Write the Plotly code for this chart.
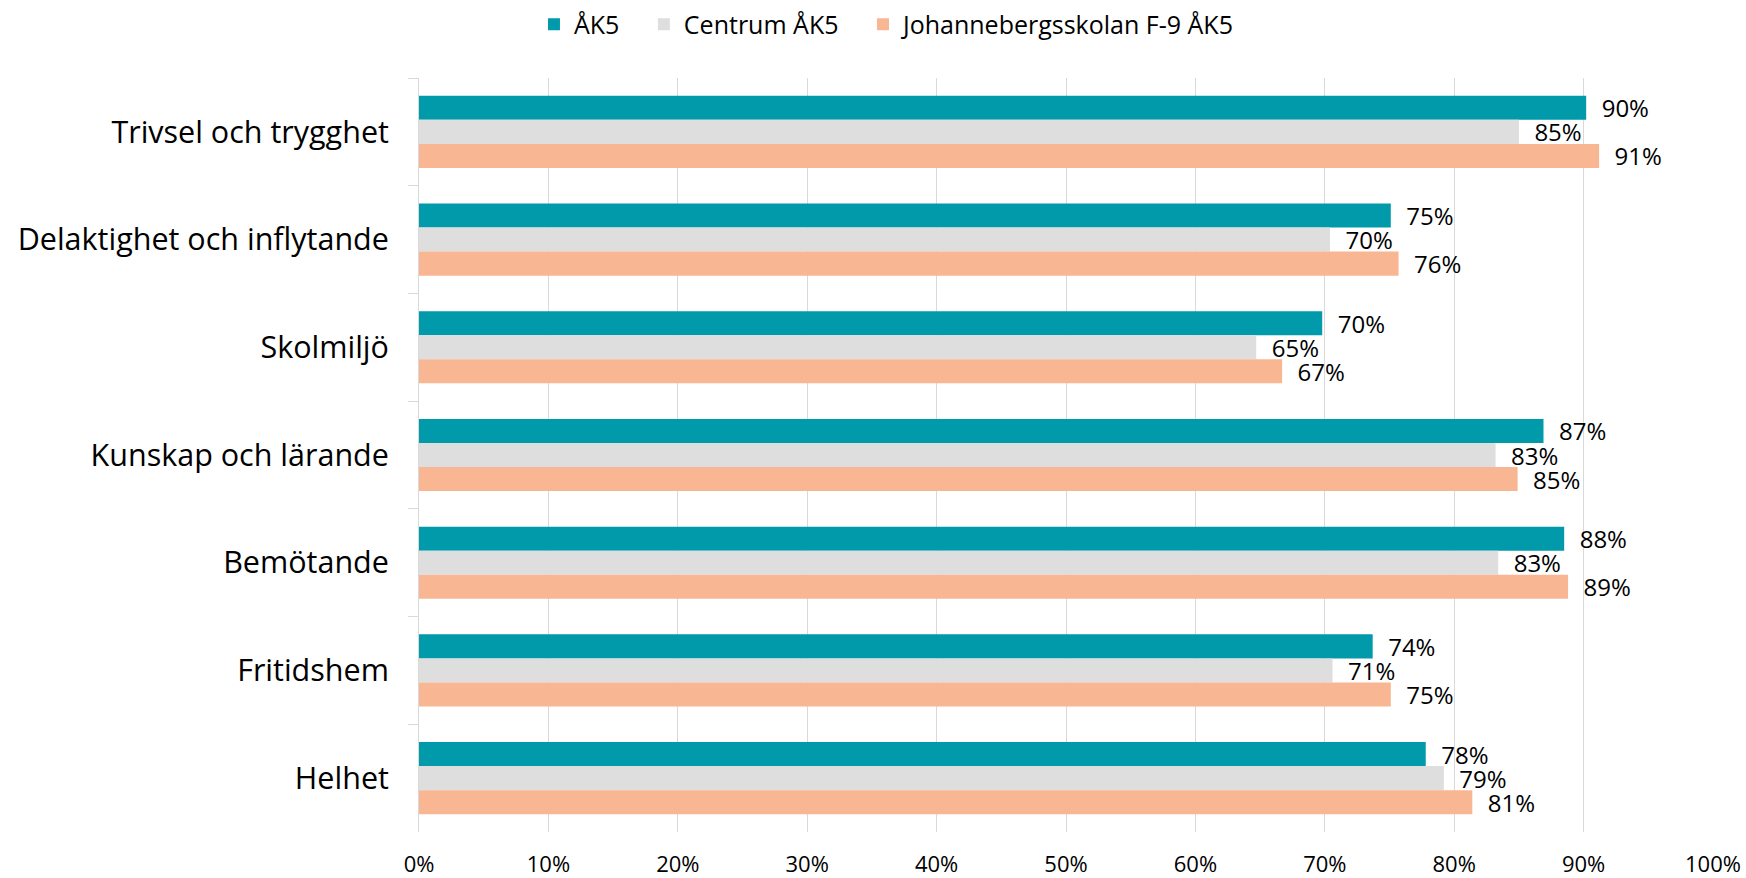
import plotly.graph_objects as go

categories = ["Trivsel och trygghet", "Delaktighet och inflytande", "Skolmiljö",
              "Kunskap och lärande", "Bemötande", "Fritidshem", "Helhet"]
series_names = ["ÅK5", "Centrum ÅK5", "Johannebergsskolan F-9 ÅK5"]
ak5 = [90.2, 75.1, 69.8, 86.9, 88.5, 73.7, 77.8]
centrum = [85.0, 70.4, 64.7, 83.2, 83.4, 70.6, 79.2]
johanneberg = [91.2, 75.7, 66.7, 84.9, 88.8, 75.1, 81.4]
colors = ["#009AAA", "#DEDEDE", "#F8B692"]
x_ticks = list(range(0, 101, 10))
x_tick_labels = [f"{v}%" for v in x_ticks]

FONT = "Open Sans"
fig = go.Figure()
legend_pad = ["\u00a0\u00a0\u00a0", "\u00a0\u00a0\u00a0", ""]
for name, vals, col, pad in zip(series_names, [ak5, centrum, johanneberg], colors, legend_pad):
    fig.add_trace(go.Bar(
        y=categories, x=vals, name=name + pad, orientation="h",
        marker=dict(color=col, line=dict(width=0)),
        text=[f"\u00a0\u00a0{round(v)}%" for v in vals],
        textposition="outside", cliponaxis=False, constraintext="none",
        textfont=dict(family=FONT, size=24, color="#000000"),
    ))

fig.update_layout(
    width=1746, height=878,
    barmode="group", bargap=0.33, bargroupgap=0,
    plot_bgcolor="white", paper_bgcolor="white",
    margin=dict(l=419, r=33, t=78, b=46, autoexpand=False),
    font=dict(family=FONT, color="#000000"),
    legend=dict(orientation="h", xref="container", x=0.508, xanchor="center",
                yref="container", y=0.972, yanchor="middle",
                font=dict(family=FONT, size=25, color="#000000"),
                traceorder="normal"),
    xaxis=dict(range=[0, 100], tickmode="array", tickvals=x_ticks, ticktext=x_tick_labels,
               showgrid=True, gridcolor="#D9D9D9", gridwidth=1,
               zeroline=False, showline=False, ticks="",
               ticklabelstandoff=17,
               tickfont=dict(family=FONT, size=22, color="#000000"),
               automargin=False),
    yaxis=dict(autorange="reversed", showline=True, linecolor="#D9D9D9", linewidth=1,
               ticks="outside", tickson="boundaries", ticklen=10, tickcolor="#D9D9D9",
               showgrid=False, ticklabelstandoff=23,
               tickfont=dict(family=FONT, size=30.5, color="#000000"),
               automargin=False),
)
fig.write_html("out.html", config={"displayModeBar": False},
               post_script="document.body.style.margin='0';")
